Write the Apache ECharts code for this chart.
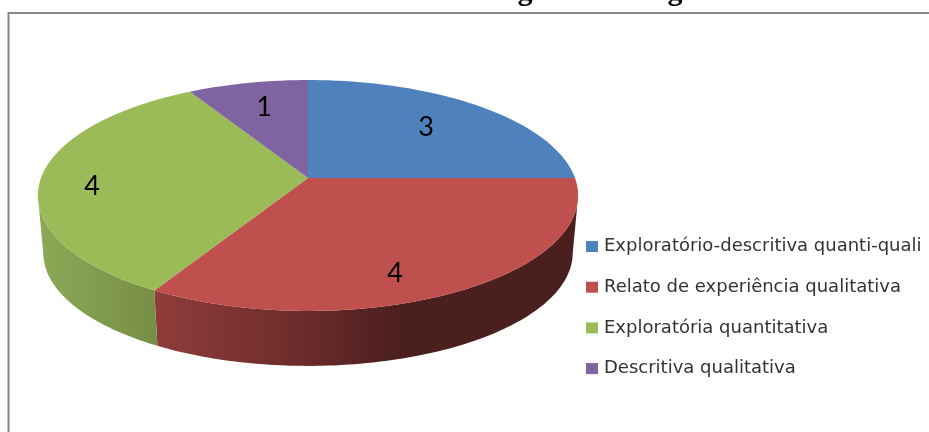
<!DOCTYPE html>
<html>
<head>
<meta charset="utf-8">
<title>Metodologia dos Artigos</title>
<style>
  html, body { margin: 0; padding: 0; background: #fff; }
  #chart { width: 929px; height: 432px; }
</style>
<script src="https://cdn.jsdelivr.net/npm/echarts@6/dist/echarts.min.js"></script>
</head>
<body>
<div id="chart"></div>
<script>
// Study types and the number of articles for each
const categories = [
  'Exploratório-descritiva quanti-quali',
  'Relato de experiência qualitativa',
  'Exploratória quantitativa',
  'Descritiva qualitativa'
];
const articleCounts = [3, 4, 4, 1];
const titleText = 'Gráfico 4 – Metodologia dos Artigos';

// Slice and side-wall paint
const sliceColors = ['#4F81BD', '#C0504D', '#9BBB59', '#8064A2'];
const wallStops = [
  [[0, '#3A5A85'], [1, '#3A5A85']],
  [[0, '#8F3C3A'], [0.34, '#6D2C2B'], [0.58, '#4B1F1E'], [1, '#4B1F1E']],
  [[0, '#8CA957'], [1, '#778E45']],
  [[0, '#5A4672'], [1, '#5A4672']]
];

// Where each count is printed
const labelSpots = [[426, 127], [395, 273], [92, 186], [264, 107]];

// Tilted-disc projection of the pie's top face and its lower rim
const disc = {
  apexX: 308, apexY: 178, spanX: 267, spanY: 112.8, tilt: -0.1515,
  ellipseY: 195.5, rimY: 253, rimScaleX: 0.98, rimScaleY: 0.978
};

const total = articleCounts.reduce((a, b) => a + b, 0);

function topPoint(share) {
  const a = share * Math.PI * 2;
  const s = Math.sin(a);
  const c = -Math.cos(a);
  const d = 1 + disc.tilt * c;
  return [disc.apexX + disc.spanX * s / d, disc.apexY + disc.spanY * c / d];
}

function rimPoint(p) {
  return [
    disc.apexX + disc.rimScaleX * (p[0] - disc.apexX),
    disc.rimY + disc.rimScaleY * (p[1] - disc.ellipseY)
  ];
}

function renderSlice(index) {
  return function (params, api) {
    const from = api.value(0);
    const to = api.value(1);
    const steps = Math.max(2, Math.ceil((to - from) * 360));
    const arc = [];
    for (let i = 0; i <= steps; i++) {
      arc.push(topPoint(from + (to - from) * i / steps));
    }
    const children = [];
    // The wall only shows along the near half of the disc
    const near = arc.filter(p => p[1] >= disc.ellipseY);
    if (near.length > 1) {
      const wall = near.concat(near.map(rimPoint).reverse());
      children.push({
        type: 'polygon',
        shape: { points: wall },
        style: {
          fill: new echarts.graphic.LinearGradient(0, 0, 1, 0,
            wallStops[index].map(s => ({ offset: s[0], color: s[1] })))
        },
        z2: 1
      });
    }
    children.push({
      type: 'polygon',
      shape: { points: [[disc.apexX, disc.apexY]].concat(arc) },
      style: { fill: sliceColors[index] },
      z2: 2
    });
    children.push({
      type: 'text',
      style: {
        text: String(articleCounts[index]),
        x: labelSpots[index][0],
        y: labelSpots[index][1],
        fill: '#000',
        font: '27px Lato',
        align: 'center',
        verticalAlign: 'middle'
      },
      z2: 3
    });
    return { type: 'group', children: children };
  };
}

let running = 0;
const series = categories.map((name, i) => {
  const from = running / total;
  running += articleCounts[i];
  return {
    type: 'custom',
    name: name,
    coordinateSystem: 'none',
    silent: true,
    animation: false,
    itemStyle: { color: sliceColors[i] },
    renderItem: renderSlice(i),
    data: [[from, running / total]]
  };
});

const chart = echarts.init(document.getElementById('chart'), null, { renderer: 'canvas' });
chart.setOption({
  backgroundColor: '#fff',
  animation: false,
  title: {
    text: titleText,
    left: 245,
    top: -23,
    padding: 0,
    textStyle: {
      fontFamily: 'Liberation Serif',
      fontWeight: 'bold',
      fontSize: 30,
      color: '#000'
    }
  },
  legend: {
    orient: 'vertical',
    left: 586,
    top: 235.5,
    padding: 0,
    itemWidth: 12,
    itemHeight: 11,
    itemGap: 18.7,
    icon: 'rect',
    data: categories,
    selectedMode: false,
    textStyle: {
      fontFamily: 'DejaVu Sans',
      fontSize: 18,
      color: '#333',
      lineHeight: 22,
      padding: [0, 0, 0, 1]
    }
  },
  graphic: [{
    type: 'polyline',
    silent: true,
    shape: { points: [[8.5, 432], [8.5, 13], [929, 13]] },
    style: { stroke: '#868686', lineWidth: 2, fill: null }
  }],
  series: series
});
</script>
</body>
</html>
